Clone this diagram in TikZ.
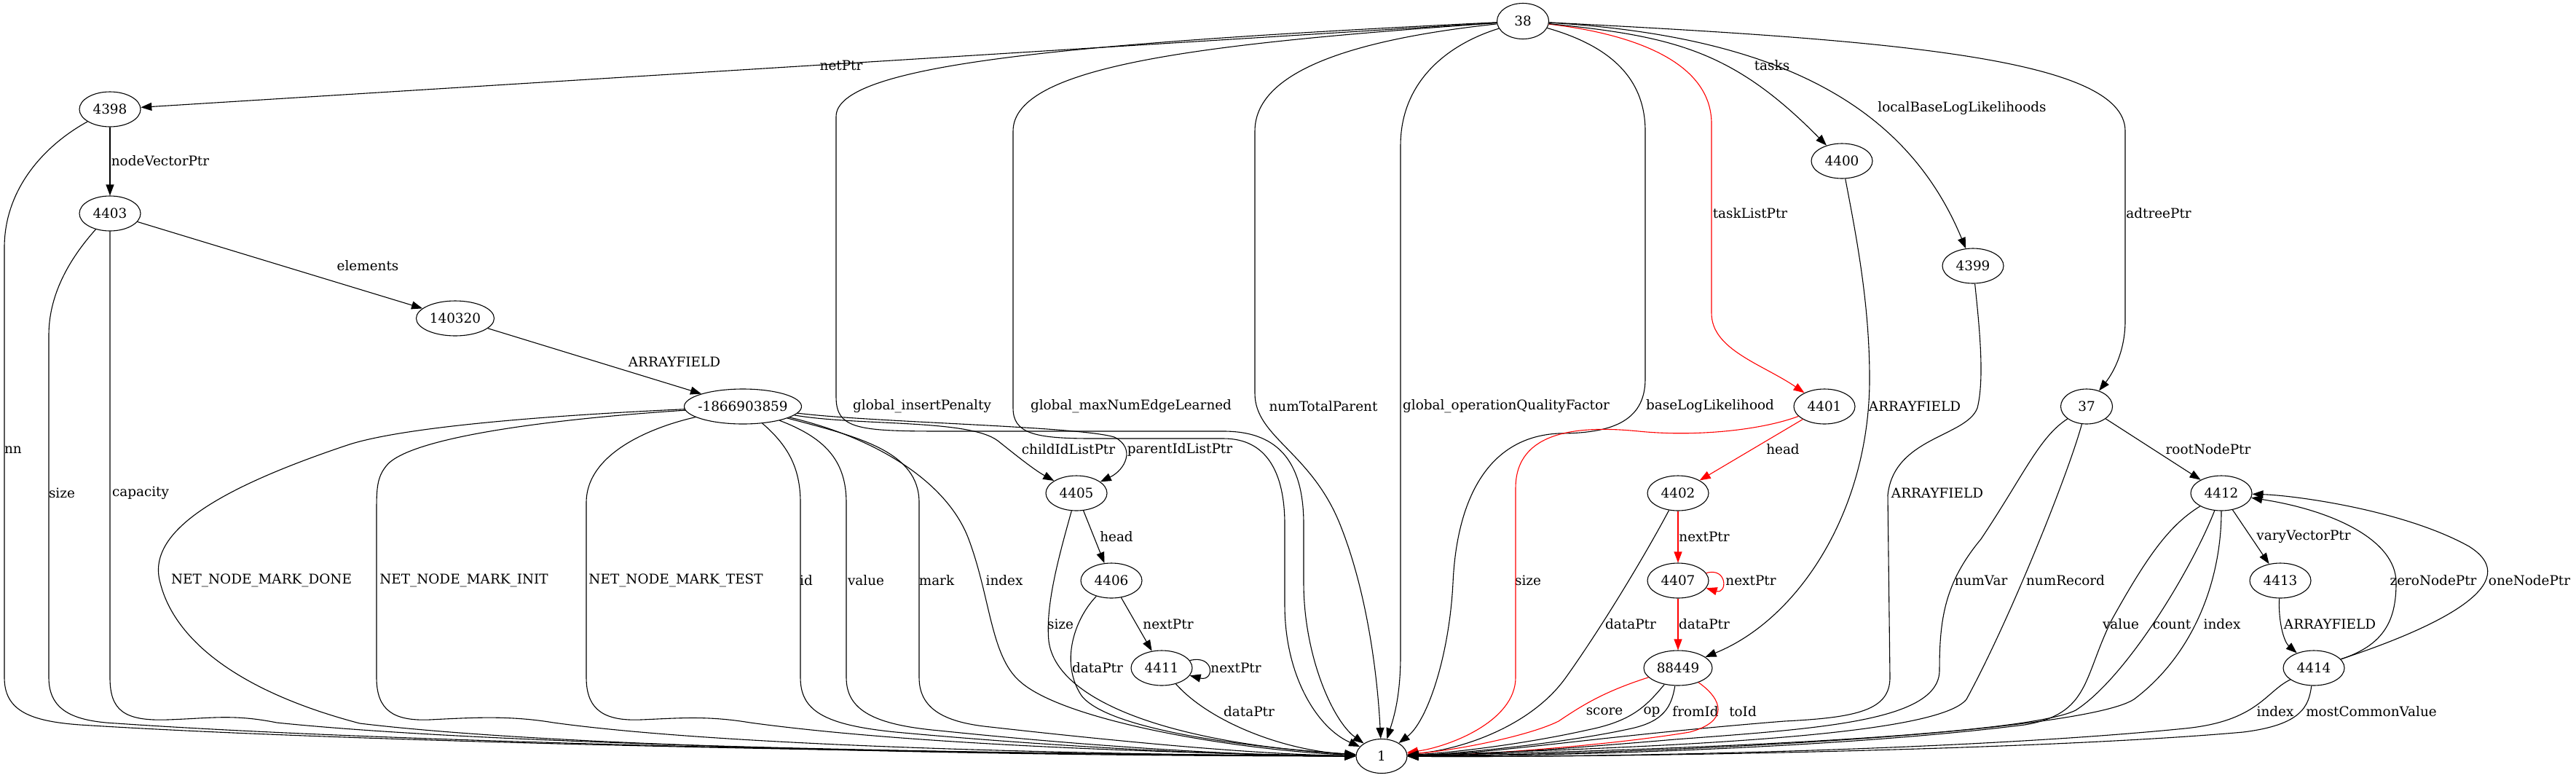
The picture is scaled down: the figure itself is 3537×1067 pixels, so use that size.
\documentclass[tikz,border=0pt]{standalone}
\usepackage{fontspec}
\setmainfont{DejaVu Serif}
\usetikzlibrary{arrows.meta,shapes.geometric}

\begin{document}
\begin{tikzpicture}[x=0.5pt,y=-0.5pt,
    obj/.style={draw,ellipse,inner sep=0pt,minimum width=42pt,minimum height=24pt,line width=0.55pt,font=\fontsize{9.2}{11}\selectfont},
    lbl/.style={inner sep=0pt,font=\fontsize{9.2}{11}\selectfont},
    ptr/.style={line width=0.55pt,-{Triangle[length=7.5pt,width=5.5pt]}},
    rptr/.style={ptr,red}]
        \useasboundingbox (0,0) rectangle (3537,1067);

        \node[obj,minimum width=35.5pt,minimum height=24.5pt] (n38) at (2091,29) {38};
        \node[obj] (n4398) at (151,150) {4398};
        \node[obj] (n4403) at (151,293) {4403};
        \node[obj,minimum width=53.5pt] (n140320) at (625,437) {140320};
        \node[obj,minimum width=80.5pt,inner xsep=-2.5pt] (nm) at (1020,558) {-1866903859};
        \node[obj] (n4400) at (2529,221) {4400};
        \node[obj] (n4399) at (2709,365) {4399};
        \node[obj] (n4401) at (2505,558) {4401};
        \node[obj,minimum width=35.5pt] (n37) at (2865,558) {37};
        \node[obj] (n4405) at (1478,677) {4405};
        \node[obj] (n4402) at (2304,677) {4402};
        \node[obj] (n4412) at (3050,677) {4412};
        \node[obj] (n4406) at (1526,797) {4406};
        \node[obj] (n4407) at (2304,797) {4407};
        \node[obj] (n4413) at (3131,797) {4413};
        \node[obj] (n4411) at (1595,917) {4411};
        \node[obj,minimum width=47pt] (n88449) at (2304,917) {88449};
        \node[obj] (n4414) at (3177,917) {4414};
        \node[obj,minimum width=35pt,minimum height=23.5pt] (n1) at (1897,1038) {1};

        \node[lbl] (lnetptr) at (1155,90) {netPtr};
        \node[lbl] (lnodevec) at (220,221) {nodeVectorPtr};
        \node[lbl] (lelements) at (505,365) {elements};
        \node[lbl] (larr1) at (926,497) {ARRAYFIELD};
        \node[lbl] (lnn) at (18,618) {nn};
        \node[lbl] (lsize1) at (85,677) {size};
        \node[lbl] (lcapacity) at (193,677) {capacity};
        \node[lbl] (ldone) at (359,797) {NET\_NODE\_MARK\_DONE};
        \node[lbl] (linit) at (637,797) {NET\_NODE\_MARK\_INIT};
        \node[lbl] (ltest) at (928,797) {NET\_NODE\_MARK\_TEST};
        \node[lbl] (lid) at (1107,797) {id};
        \node[lbl] (lvalue1) at (1189,797) {value};
        \node[lbl] (lmark) at (1286,797) {mark};
        \node[lbl] (lindex1) at (1379,797) {index};
        \node[lbl] (linsert) at (1266,558) {global\_insertPenalty};
        \node[lbl] (lmaxedge) at (1553,558) {global\_maxNumEdgeLearned};
        \node[lbl] (lnumtotal) at (1817,558) {numTotalParent};
        \node[lbl] (lopqual) at (2068,558) {global\_operationQualityFactor};
        \node[lbl] (lbaselog) at (2348,558) {baseLogLikelihood};
        \node[lbl] (lchild) at (1467,617) {childIdListPtr};
        \node[lbl] (lparent) at (1620,617) {parentIdListPtr};
        \node[lbl] (lhead1) at (1533,737) {head};
        \node[lbl] (lsize2) at (1456,857) {size};
        \node[lbl] (lnext1) at (1604,857) {nextPtr};
        \node[lbl] (ldata1) at (1507,917) {dataPtr};
        \node[lbl] (lnext2) at (1697,917) {nextPtr};
        \node[lbl] (ldata2) at (1715,977) {dataPtr};
        \node[lbl] (ltasks) at (2433,90) {tasks};
        \node[lbl] (llocal) at (2694,149) {localBaseLogLikelihoods};
        \node[lbl] (ltasklist) at (2403,293) {taskListPtr};
        \node[lbl] (ladtree) at (2964,293) {adtreePtr};
        \node[lbl] (larr2) at (2629,558) {ARRAYFIELD};
        \node[lbl] (lhead2) at (2448,617) {head};
        \node[lbl] (larr3) at (2660,677) {ARRAYFIELD};
        \node[lbl] (lnext3) at (2340,737) {nextPtr};
        \node[lbl] (lsize3) at (2098,797) {size};
        \node[lbl] (lnext4) at (2404,797) {nextPtr};
        \node[lbl] (ldata3) at (2239,857) {dataPtr};
        \node[lbl] (ldata4) at (2340,857) {dataPtr};
        \node[lbl] (lscore) at (2203,977) {score};
        \node[lbl] (lop) at (2268,977) {op};
        \node[lbl] (lfrom) at (2328,977) {fromId};
        \node[lbl] (lto) at (2393,977) {toId};
        \node[lbl] (lroot) at (3032,617) {rootNodePtr};
        \node[lbl] (lnumvar) at (2720,797) {numVar};
        \node[lbl] (lnumrec) at (2836,797) {numRecord};
        \node[lbl] (lvary) at (3163,737) {varyVectorPtr};
        \node[lbl] (lzero) at (3341,797) {zeroNodePtr};
        \node[lbl] (lone) at (3473,797) {oneNodePtr};
        \node[lbl] (lvalue2) at (2912,857) {value};
        \node[lbl] (lcount) at (2982,857) {count};
        \node[lbl] (lindex2) at (3051,857) {index};
        \node[lbl] (larr4) at (3199,857) {ARRAYFIELD};
        \node[lbl] (lindex3) at (3124,977) {index};
        \node[lbl] (lmostcommon) at (3256,977) {mostCommonValue};

        \draw[ptr] (n38) -- (n4398);
        \draw[ptr] (n38) .. controls (1450,60) and (1148,90) .. (1148,160) -- (1148,545) .. controls (1148,590) and (1180,592) .. (1300,592) -- (1680,592) .. controls (1760,592) and (1790,640) .. (1790,720) -- (1790,800) .. controls (1790,900) and (1830,990) .. (n1);
        \draw[ptr] (n38) .. controls (1650,60) and (1391,90) .. (1391,180) -- (1391,560) .. controls (1391,595) and (1420,602) .. (1500,602) -- (1680,602) .. controls (1740,602) and (1764,650) .. (1764,720) -- (1764,830) .. controls (1764,930) and (1810,1000) .. (n1);
        \draw[ptr] (n38) .. controls (1850,55) and (1723,100) .. (1723,180) -- (1723,540) .. controls (1723,600) and (1800,620) .. (1840,720) .. controls (1880,820) and (1892,940) .. (n1);
        \draw[ptr] (n38) .. controls (1990,60) and (1923,110) .. (1923,200) -- (1923,900) .. controls (1923,960) and (1912,990) .. (n1);
        \draw[ptr] (n38) .. controls (2200,60) and (2259,100) .. (2259,180) -- (2259,520) .. controls (2259,580) and (2210,595) .. (2140,595) .. controls (2040,600) and (2000,690) .. (1995,800) .. controls (1990,900) and (1960,990) .. (n1);
        \draw[rptr] (n38) .. controls (2230,45) and (2350,80) .. (2350,170) -- (2350,430) .. controls (2350,480) and (2420,500) .. (n4401);
        \draw[ptr] (n38) .. controls (2300,50) and (2380,70) .. (n4400);
        \draw[ptr] (n38) .. controls (2450,50) and (2620,150) .. (n4399);
        \draw[ptr] (n38) .. controls (2600,55) and (2918,80) .. (2918,180) -- (2918,440) .. controls (2918,490) and (2895,520) .. (n37);

        \draw[ptr] (n4398) -- (n4403);
        \draw[ptr] (n4398) .. controls (60,200) and (6,260) .. (6,340) -- (6,930) .. controls (6,975) and (40,990) .. (110,995) .. controls (500,1020) and (1300,1035) .. (n1);
        \draw[ptr] (n4403) -- (n140320);
        \draw[ptr] (n4403) .. controls (100,350) and (67,400) .. (67,460) -- (67,930) .. controls (67,975) and (100,990) .. (160,993) .. controls (550,1020) and (1300,1035) .. (n1);
        \draw[ptr] (n4403) -- (151,930) .. controls (151,975) and (170,990) .. (230,988) .. controls (290,986) and (320,980) .. (380,992) .. controls (700,1025) and (1400,1035) .. (n1);
        \draw[ptr] (n140320) -- (nm);

        \draw[ptr] (nm) .. controls (760,570) and (560,585) .. (480,610) .. controls (300,670) and (200,730) .. (220,800) .. controls (240,880) and (330,950) .. (494,993) .. controls (800,1030) and (1500,1038) .. (n1);
        \draw[ptr] (nm) .. controls (760,575) and (560,600) .. (530,640) .. controls (518,655) and (517,670) .. (517,700) -- (517,930) .. controls (517,975) and (540,990) .. (590,988) .. controls (650,985) and (700,982) .. (760,992) .. controls (1000,1025) and (1500,1036) .. (n1);
        \draw[ptr] (nm) .. controls (900,585) and (805,620) .. (805,690) -- (805,930) .. controls (805,975) and (830,990) .. (880,988) .. controls (930,986) and (970,982) .. (1030,992) .. controls (1250,1022) and (1600,1034) .. (n1);
        \draw[ptr] (nm) .. controls (1080,610) and (1099,640) .. (1099,690) -- (1099,930) .. controls (1099,975) and (1130,995) .. (1230,1005) .. controls (1500,1030) and (1750,1038) .. (n1);
        \draw[ptr] (nm) .. controls (1130,600) and (1162,630) .. (1162,690) -- (1162,930) .. controls (1162,975) and (1200,995) .. (1290,1003) .. controls (1550,1030) and (1750,1038) .. (n1);
        \draw[ptr] (nm) .. controls (1180,600) and (1262,620) .. (1262,690) -- (1262,930) .. controls (1262,975) and (1300,992) .. (1360,998) .. controls (1600,1025) and (1750,1036) .. (n1);
        \draw[ptr] (nm) .. controls (1200,600) and (1300,660) .. (1330,740) .. controls (1360,820) and (1360,900) .. (1400,935) .. controls (1460,990) and (1700,1030) .. (n1);
        \draw[ptr] (nm) .. controls (1180,585) and (1330,575) .. (1370,605) .. controls (1395,625) and (1420,645) .. (n4405);
        \draw[ptr] (nm) .. controls (1200,580) and (1480,585) .. (1530,600) .. controls (1560,615) and (1545,645) .. (n4405);

        \draw[ptr] (n4405) -- (n4406);
        \draw[ptr] (n4405) .. controls (1455,760) and (1435,830) .. (1440,880) .. controls (1450,960) and (1600,1020) .. (n1);
        \draw[ptr] (n4406) -- (n4411);
        \draw[ptr] (n4406) .. controls (1475,850) and (1455,910) .. (1485,955) .. controls (1520,1000) and (1700,1025) .. (n1);
        \draw[ptr] (n4411.15) .. controls (1668,898) and (1668,936) .. (n4411.-15);
        \draw[ptr] (n4411) .. controls (1660,990) and (1760,1030) .. (n1);

        \draw[ptr] (n4400) .. controls (2550,330) and (2567,420) .. (2567,520) .. controls (2567,700) and (2470,850) .. (n88449);
        \draw[ptr] (n4399) .. controls (2718,450) and (2725,520) .. (2715,560) .. controls (2700,600) and (2600,600) .. (2592,680) -- (2595,930) .. controls (2595,975) and (2550,985) .. (2450,990) .. controls (2200,1010) and (2050,1035) .. (n1);

        \draw[rptr] (n4401) -- (n4402);
        \draw[rptr] (n4401) .. controls (2420,590) and (2330,600) .. (2250,592) .. controls (2170,584) and (2081,590) .. (2081,670) -- (2081,930) .. controls (2081,990) and (1990,1025) .. (n1);
        \draw[rptr] (n4402) -- (n4407);
        \draw[ptr] (n4402) .. controls (2260,760) and (2200,860) .. (2150,930) .. controls (2100,1000) and (2000,1030) .. (n1);
        \draw[rptr] (n4407.15) .. controls (2372,778) and (2372,816) .. (n4407.-15);
        \draw[rptr] (n4407) -- (n88449);

        \draw[rptr] (n88449) .. controls (2200,950) and (2170,970) .. (2140,990) .. controls (2100,1010) and (2000,1030) .. (n1);
        \draw[ptr] (n88449) .. controls (2260,970) and (2240,990) .. (2180,1002) .. controls (2100,1020) and (2000,1033) .. (n1);
        \draw[ptr] (n88449) .. controls (2295,970) and (2285,990) .. (2240,1000) .. controls (2150,1020) and (2000,1035) .. (n1);
        \draw[rptr] (n88449) .. controls (2365,960) and (2375,990) .. (2320,1005) .. controls (2200,1025) and (2000,1038) .. (n1);

        \draw[ptr] (n37) -- (n4412);
        \draw[ptr] (n37) .. controls (2800,600) and (2780,650) .. (2720,740) .. controls (2670,800) and (2663,850) .. (2663,920) .. controls (2663,990) and (2500,1000) .. (2300,1015) .. controls (2150,1028) and (2000,1038) .. (n1);
        \draw[ptr] (n37) .. controls (2840,650) and (2760,850) .. (2700,960) .. controls (2660,1010) and (2300,1025) .. (n1);

        \draw[ptr] (n4412) -- (n4413);
        \draw[ptr] (n4412) .. controls (2980,720) and (2950,760) .. (2900,850) .. controls (2860,930) and (2870,980) .. (2780,995) .. controls (2500,1030) and (2100,1038) .. (n1);
        \draw[ptr] (n4412) .. controls (3010,780) and (2920,930) .. (2850,975) .. controls (2780,1010) and (2300,1030) .. (n1);
        \draw[ptr] (n4412) .. controls (3050,800) and (3010,900) .. (2930,960) .. controls (2860,1005) and (2300,1035) .. (n1);
        \draw[ptr] (n4413) .. controls (3128,850) and (3135,880) .. (n4414);
        \draw[ptr] (n4414) .. controls (3275,885) and (3290,850) .. (3290,800) .. controls (3290,740) and (3200,700) .. (n4412);
        \draw[ptr] (n4414) .. controls (3350,860) and (3470,800) .. (3390,750) .. controls (3300,700) and (3150,680) .. (n4412);
        \draw[ptr] (n4414) .. controls (3110,950) and (3100,990) .. (3000,1000) .. controls (2700,1030) and (2200,1040) .. (n1);
        \draw[ptr] (n4414) .. controls (3170,970) and (3160,995) .. (3080,1005) .. controls (2800,1030) and (2200,1040) .. (n1);
    \end{tikzpicture}
\end{document}
